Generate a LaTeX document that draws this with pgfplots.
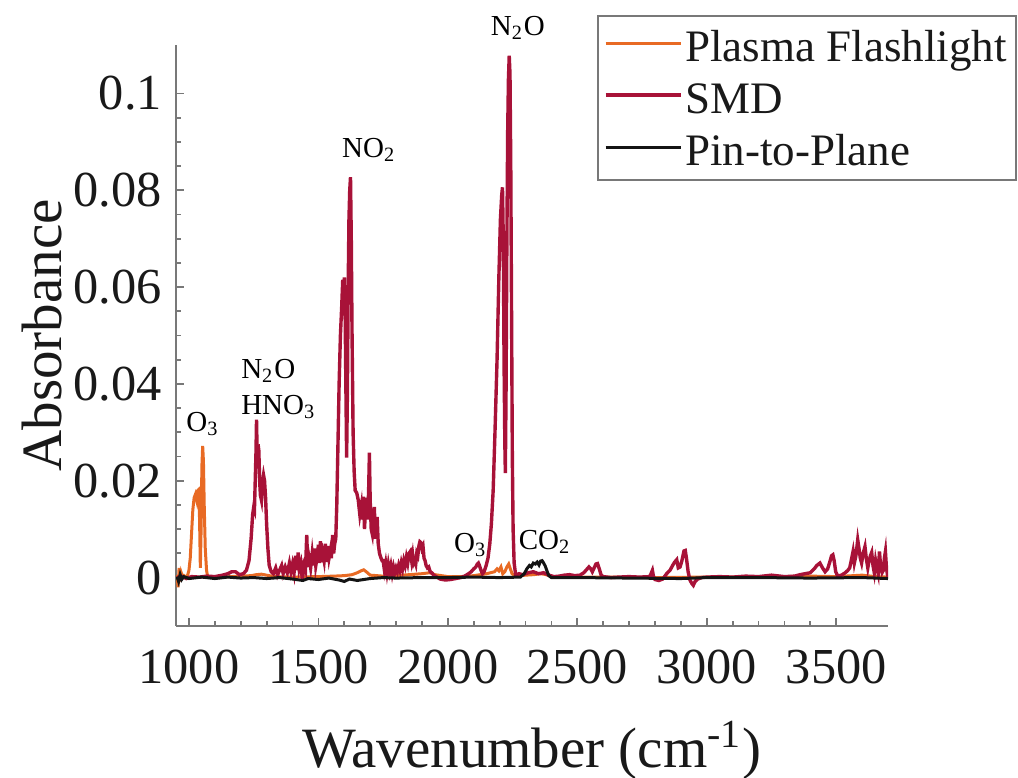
\documentclass[border=0pt]{standalone}
\usepackage{fontspec}
\setmainfont{Liberation Serif}[Ligatures=TeX]
\usepackage{pgfplots}
\pgfplotsset{compat=1.18}
\definecolor{cPF}{RGB}{232,106,36}
\definecolor{cSMD}{RGB}{168,18,56}
\definecolor{cPP}{RGB}{20,20,20}
\definecolor{axgray}{RGB}{120,120,120}
\begin{document}
\begin{tikzpicture}[font=\rmfamily]
\begin{axis}[
  width=178pt, height=145.25pt, scale only axis,
  xmin=950, xmax=3700, ymin=-0.01, ymax=0.11,
  axis x line*=bottom, axis y line*=left,
  axis line style={axgray, line width=0.5pt},
  every tick/.style={axgray, line width=0.45pt},
  major tick length=2pt, minor tick length=1.25pt,
  tick align=inside,
  xtick={1000,1500,2000,2500,3000,3500},
  minor x tick num=4,
  ytick={0,0.02,0.04,0.06,0.08,0.1},
  yticklabels={0,0.02,0.04,0.06,0.08,0.1},
  minor y tick num=3,
  /pgf/number format/assume math mode=true,
  /pgf/number format/1000 sep={},
  tick label style={font=\rmfamily\fontsize{12.6}{14}\selectfont, text=black!90},
  xticklabel style={yshift=-2.5pt},
  xlabel={Wavenumber (cm\textsuperscript{-1})},
  ylabel={Absorbance},
  label style={font=\rmfamily\fontsize{14.25}{16}\selectfont, text=black!90},
  xlabel style={at={(axis description cs:0.5,-0.2444)}, anchor=base},
  ylabel style={at={(axis description cs:-0.1615,0.5)}, anchor=base, rotate=0},
  clip mode=individual,
  legend image code/.code={\draw[#1] (0pt,4.5pt) -- (18.75pt,4.5pt);},
  legend style={at={(rel axis cs:0.5913,1.0516)}, anchor=north west,
    draw=axgray, line width=0.5pt, inner xsep=1.5pt, inner ysep=1pt,
    font=\rmfamily\fontsize{11.25}{13}\selectfont, text=black!90,
    row sep=0pt,
    nodes={inner sep=0.75pt, text height=9.5pt, text depth=2pt, anchor=base west}},
]
\addplot[cPF, line width=0.75pt] coordinates {
(954,0.0005)(958,-0.0020)(962,0.0020)(966,-0.0008)(970,0.0010)(975,0.0002)(980,0.0004)(985,0.0001)(990,0.0003)(995,0.0005)
(1000,0.0015)(1005,0.0040)(1010,0.0090)(1015,0.0140)(1020,0.0165)(1025,0.0172)(1030,0.0160)(1034,0.0180)(1038,0.0182)(1041,0.0120)
(1044,0.0020)(1047,0.0100)(1050,0.0230)(1053,0.0272)(1056,0.0240)(1059,0.0150)(1063,0.0060)(1068,0.0015)(1072,0.0002)(1090,0.0001)
(1120,0.0000)(1160,0.0002)(1200,0.0003)(1240,0.0004)(1260,0.0006)(1280,0.0007)(1300,0.0005)(1330,0.0002)(1400,0.0001)(1500,0.0002)
(1560,0.0003)(1600,0.0004)(1630,0.0006)(1650,0.0010)(1665,0.0014)(1675,0.0016)(1685,0.0012)(1700,0.0005)(1750,0.0003)(1800,0.0004)
(1850,0.0006)(1900,0.0008)(1930,0.0010)(1950,0.0006)(2000,0.0002)(2050,0.0002)(2100,0.0004)(2150,0.0008)(2180,0.0012)(2190,0.0018)
(2197,0.0014)(2205,0.0022)(2212,0.0008)(2220,0.0012)(2228,0.0022)(2235,0.0028)(2240,0.0020)(2248,0.0008)(2260,0.0003)(2300,0.0005)
(2330,0.0006)(2360,0.0008)(2380,0.0006)(2400,0.0002)(2500,0.0001)(2600,0.0001)(2800,0.0000)(3000,0.0001)(3200,0.0001)(3400,0.0003)
(3500,0.0002)(3600,0.0005)(3650,0.0002)(3700,0.0001)
};
\addlegendentry{Plasma Flashlight}
\addplot[cSMD, line width=0.85pt] coordinates {
(954,0.0000)(970,0.0003)(990,-0.0002)(1010,0.0002)(1040,0.0001)(1070,0.0003)(1100,0.0002)(1130,0.0005)(1150,0.0008)(1165,0.0012)
(1180,0.0012)(1195,0.0006)(1210,0.0008)(1222,0.0015)(1232,0.0035)(1240,0.0080)(1246,0.0130)(1250,0.0145)(1253,0.0140)(1256,0.0200)
(1259,0.0260)(1261,0.0326)(1264,0.0240)(1267,0.0275)(1270,0.0262)(1273,0.0200)(1276,0.0170)(1280,0.0160)(1284,0.0198)(1288,0.0212)
(1292,0.0200)(1296,0.0165)(1300,0.0110)(1305,0.0060)(1310,0.0025)(1318,0.0012)(1326,0.0008)(1335,0.0020)(1342,0.0005)(1350,0.0015)
(1358,0.0025)(1364,0.0008)(1372,0.0022)(1380,0.0010)(1388,0.0030)(1394,0.0012)(1400,0.0028)(1406,0.0010)(1412,0.0045)(1416,0.0015)
(1422,0.0052)(1426,0.0018)(1432,0.0030)(1438,-0.0005)(1444,0.0025)(1450,0.0015)(1455,0.0088)(1459,0.0022)(1464,0.0040)(1470,0.0020)
(1476,0.0050)(1481,0.0025)(1486,0.0060)(1490,0.0025)(1496,0.0045)(1500,0.0068)(1504,0.0030)(1508,0.0075)(1512,0.0032)(1517,0.0050)
(1522,0.0035)(1527,0.0070)(1531,0.0032)(1536,0.0065)(1541,0.0040)(1546,0.0055)(1550,0.0040)(1555,0.0088)(1559,0.0050)(1563,0.0070)
(1567,0.0080)(1571,0.0150)(1575,0.0260)(1580,0.0400)(1585,0.0500)(1590,0.0560)(1594,0.0615)(1597,0.0580)(1600,0.0620)(1603,0.0560)
(1606,0.0400)(1609,0.0248)(1612,0.0380)(1615,0.0600)(1618,0.0740)(1621,0.0800)(1624,0.0827)(1627,0.0700)(1630,0.0500)(1634,0.0300)
(1638,0.0220)(1642,0.0180)(1648,0.0175)(1654,0.0160)(1660,0.0130)(1666,0.0150)(1670,0.0120)(1674,0.0167)(1678,0.0100)(1682,0.0140)
(1686,0.0165)(1690,0.0120)(1694,0.0180)(1697,0.0258)(1700,0.0160)(1704,0.0100)(1708,0.0090)(1712,0.0120)(1716,0.0146)(1720,0.0080)
(1724,0.0110)(1727,0.0125)(1731,0.0070)(1736,0.0050)(1742,0.0040)(1746,0.0035)(1750,0.0035)(1755,0.0015)(1760,0.0030)(1765,0.0010)
(1770,0.0028)(1775,0.0012)(1780,0.0025)(1785,0.0008)(1790,0.0022)(1795,0.0010)(1800,0.0020)(1805,0.0012)(1810,0.0025)(1815,0.0015)
(1820,0.0030)(1825,0.0018)(1830,0.0035)(1835,0.0025)(1840,0.0042)(1845,0.0030)(1850,0.0050)(1855,0.0054)(1860,0.0035)(1864,0.0048)
(1868,0.0030)(1872,0.0035)(1876,0.0028)(1880,0.0050)(1884,0.0045)(1888,0.0065)(1892,0.0074)(1896,0.0072)(1900,0.0060)(1904,0.0065)
(1908,0.0040)(1912,0.0035)(1916,0.0025)(1921,0.0020)(1926,0.0022)(1932,0.0012)(1938,0.0010)(1945,0.0005)(1955,0.0002)(1970,-0.0003)
(1990,-0.0005)(2010,-0.0004)(2030,-0.0002)(2050,0.0000)(2065,0.0003)(2080,0.0008)(2090,0.0012)(2100,0.0018)(2108,0.0022)(2114,0.0028)
(2118,0.0030)(2122,0.0025)(2128,0.0015)(2134,0.0008)(2140,0.0012)(2148,0.0025)(2155,0.0040)(2162,0.0070)(2168,0.0110)(2175,0.0180)
(2182,0.0300)(2190,0.0450)(2197,0.0620)(2203,0.0740)(2208,0.0790)(2211,0.0806)(2214,0.0700)(2217,0.0450)(2220,0.0280)(2222,0.0216)
(2225,0.0400)(2228,0.0700)(2231,0.0920)(2234,0.1030)(2237,0.1078)(2240,0.1040)(2243,0.0850)(2246,0.0550)(2249,0.0250)(2252,0.0100)
(2256,0.0030)(2262,0.0005)(2275,0.0008)(2290,0.0006)(2310,0.0010)(2330,0.0012)(2350,0.0008)(2370,0.0010)(2390,0.0005)(2410,0.0002)
(2430,0.0003)(2450,0.0005)(2470,0.0006)(2490,0.0004)(2510,0.0005)(2525,0.0010)(2535,0.0016)(2545,0.0022)(2552,0.0018)(2558,0.0012)
(2565,0.0020)(2572,0.0028)(2578,0.0029)(2585,0.0018)(2592,0.0005)(2600,0.0002)(2630,0.0000)(2660,0.0001)(2700,0.0002)(2740,0.0001)
(2780,0.0002)(2790,0.0015)(2794,0.0003)(2800,-0.0004)(2815,-0.0006)(2830,-0.0003)(2845,0.0008)(2858,0.0015)(2868,0.0025)(2876,0.0032)
(2884,0.0037)(2890,0.0020)(2897,0.0022)(2904,0.0035)(2912,0.0055)(2917,0.0056)(2922,0.0038)(2928,0.0012)(2935,-0.0005)(2942,-0.0012)
(2948,-0.0016)(2955,-0.0008)(2965,-0.0003)(2980,0.0000)(3000,0.0001)(3050,0.0002)(3100,0.0001)(3150,0.0003)(3200,0.0002)(3250,0.0005)
(3300,0.0002)(3340,0.0003)(3360,0.0006)(3380,0.0008)(3400,0.0010)(3415,0.0018)(3425,0.0025)(3437,0.0030)(3447,0.0020)(3457,0.0012)
(3467,0.0018)(3475,0.0032)(3482,0.0045)(3487,0.0047)(3492,0.0035)(3498,0.0012)(3506,0.0003)(3520,0.0005)(3535,0.0010)(3545,0.0015)
(3552,0.0020)(3558,0.0035)(3565,0.0054)(3570,0.0030)(3576,0.0045)(3583,0.0078)(3588,0.0060)(3593,0.0040)(3598,0.0030)(3604,0.0050)
(3611,0.0064)(3616,0.0040)(3622,0.0020)(3627,0.0035)(3632,0.0045)(3637,0.0052)(3642,0.0025)(3647,0.0010)(3652,0.0035)(3657,0.0020)
(3662,0.0008)(3667,0.0054)(3672,0.0020)(3677,0.0010)(3682,0.0015)(3686,0.0040)(3690,0.0054)(3694,0.0020)(3698,0.0005)(3700,0.0002)
};
\addlegendentry{SMD}
\addplot[cPP, line width=0.75pt] coordinates {
(954,0.0002)(960,-0.0008)(966,0.0006)(972,-0.0004)(980,0.0002)(1000,-0.0002)(1050,0.0001)(1100,-0.0002)(1150,0.0001)(1200,-0.0001)
(1250,0.0000)(1300,-0.0002)(1350,0.0000)(1400,-0.0003)(1440,-0.0006)(1460,-0.0002)(1500,-0.0004)(1540,-0.0001)(1580,-0.0005)(1600,-0.0008)
(1620,-0.0003)(1650,-0.0006)(1700,-0.0002)(1750,0.0000)(1800,-0.0001)(1900,0.0000)(2000,0.0000)(2100,0.0001)(2200,0.0000)(2280,0.0001)
(2295,0.0008)(2305,0.0018)(2315,0.0025)(2322,0.0022)(2330,0.0030)(2338,0.0028)(2345,0.0032)(2352,0.0026)(2358,0.0034)(2364,0.0035)
(2370,0.0030)(2376,0.0024)(2382,0.0015)(2390,0.0004)(2400,0.0000)(2500,0.0000)(2700,-0.0001)(2900,-0.0002)(3000,0.0000)(3200,0.0000)
(3400,-0.0001)(3600,0.0000)(3700,-0.0002)
};
\addlegendentry{Pin-to-Plane}
\begin{scope}[every node/.style={font=\rmfamily\fontsize{7.25}{8.5}\selectfont, text=black, inner sep=0pt, anchor=base west}]
\node at (axis cs:987,0.0301) {O\textsubscript{3}};
\node at (axis cs:1199,0.0412) {N\textsubscript{2}O};
\node at (axis cs:1199,0.0336) {HNO\textsubscript{3}};
\node at (axis cs:1589,0.0868) {NO\textsubscript{2}};
\node at (axis cs:2163,0.1120) {N\textsubscript{2}O};
\node at (axis cs:2021,0.0052) {O\textsubscript{3}};
\node at (axis cs:2271,0.0058) {CO\textsubscript{2}};
\end{scope}
\coordinate (bbBL) at (rel axis cs:-0.2472,-0.2616);
\coordinate (bbTR) at (rel axis cs:1.1826,1.0775);
\end{axis}
\pgfresetboundingbox
\useasboundingbox (bbBL) rectangle (bbTR);
\end{tikzpicture}
\end{document}
